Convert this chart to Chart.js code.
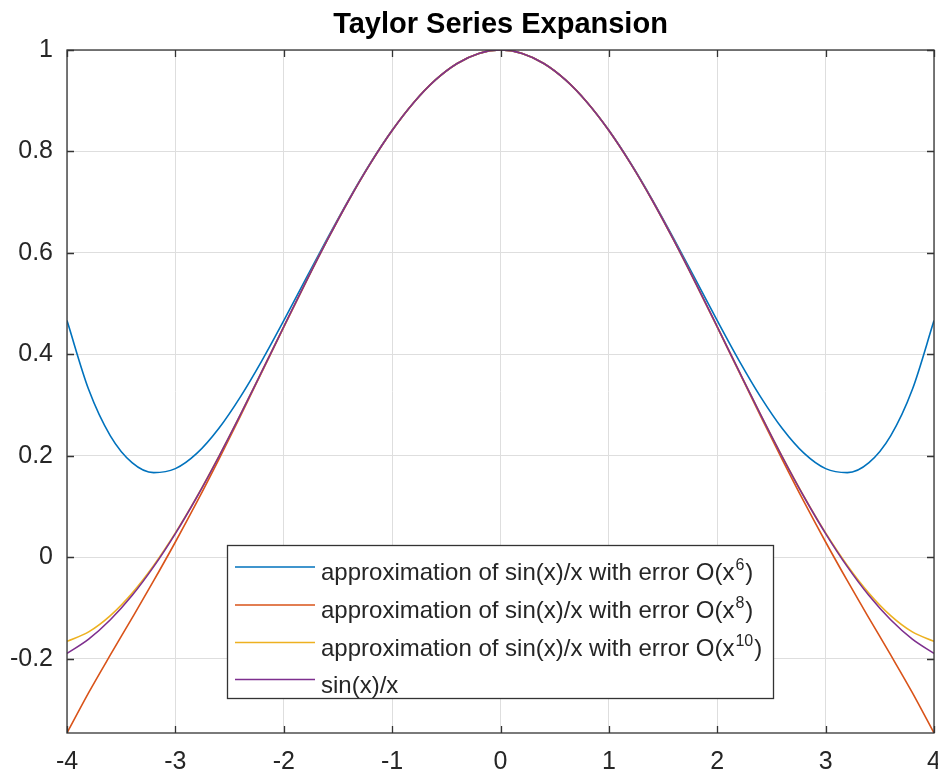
<!DOCTYPE html>
<html>
<head>
<meta charset="utf-8">
<script src="https://cdn.jsdelivr.net/npm/chart.js@4"></script>
<style>
  html, body { margin: 0; padding: 0; background: #ffffff; }
  #wrap { width: 938px; height: 776px; position: relative; }
</style>
</head>
<body>
<div id="wrap"><canvas id="c"></canvas></div>
<script>
// ---- data ----
const xValues = [-4, -3.8, -3.6, -3.4, -3.2, -3, -2.8, -2.6, -2.4, -2.2, -2, -1.8, -1.6, -1.4, -1.2, -1, -0.8, -0.6, -0.4, -0.2, 0,
                 0.2, 0.4, 0.6, 0.8, 1, 1.2, 1.4, 1.6, 1.8, 2, 2.2, 2.4, 2.6, 2.8, 3, 3.2, 3.4, 3.6, 3.8, 4];

const approxO6 = [0.4667, 0.3309, 0.2397, 0.1869, 0.1671, 0.1750, 0.2055, 0.2541, 0.3165, 0.3885, 0.4667, 0.5475, 0.6279, 0.7053, 0.7773, 0.8417, 0.8967, 0.9411, 0.9735, 0.9933, 1,
                  0.9933, 0.9735, 0.9411, 0.8967, 0.8417, 0.7773, 0.7053, 0.6279, 0.5475, 0.4667, 0.3885, 0.3165, 0.2541, 0.2055, 0.1750, 0.1671, 0.1869, 0.2397, 0.3309, 0.4667];

const approxO8 = [-0.3460, -0.2665, -0.1922, -0.1196, -0.0459, 0.0304, 0.1099, 0.1929, 0.2786, 0.3661, 0.4540, 0.5407, 0.6246, 0.7039, 0.7767, 0.8415, 0.8967, 0.9411, 0.9735, 0.9933, 1,
                  0.9933, 0.9735, 0.9411, 0.8967, 0.8415, 0.7767, 0.7039, 0.6246, 0.5407, 0.4540, 0.3661, 0.2786, 0.1929, 0.1099, 0.0304, -0.0459, -0.1196, -0.1922, -0.2665, -0.3460];

const approxO10 = [-0.1654, -0.1466, -0.1145, -0.0704, -0.0156, 0.0484, 0.1203, 0.1986, 0.2816, 0.3676, 0.4547, 0.5410, 0.6247, 0.7039, 0.7767, 0.8415, 0.8967, 0.9411, 0.9735, 0.9933, 1,
                   0.9933, 0.9735, 0.9411, 0.8967, 0.8415, 0.7767, 0.7039, 0.6247, 0.5410, 0.4547, 0.3676, 0.2816, 0.1986, 0.1203, 0.0484, -0.0156, -0.0704, -0.1145, -0.1466, -0.1654];

const sincValues = [-0.1892, -0.1610, -0.1229, -0.0752, -0.0182, 0.0470, 0.1196, 0.1983, 0.2814, 0.3675, 0.4546, 0.5410, 0.6247, 0.7039, 0.7767, 0.8415, 0.8967, 0.9411, 0.9735, 0.9933, 1,
                    0.9933, 0.9735, 0.9411, 0.8967, 0.8415, 0.7767, 0.7039, 0.6247, 0.5410, 0.4546, 0.3675, 0.2814, 0.1983, 0.1196, 0.0470, -0.0182, -0.0752, -0.1229, -0.1610, -0.1892];

const xTicks = [-4, -3, -2, -1, 0, 1, 2, 3, 4];
const yTicks = [-0.2, 0, 0.2, 0.4, 0.6, 0.8, 1];

const legendBase = ['approximation of sin(x)/x with error O(x', 'approximation of sin(x)/x with error O(x', 'approximation of sin(x)/x with error O(x', 'sin(x)/x'];
const legendSup  = ['6', '8', '10', ''];
const legendTail = [')', ')', ')', ''];
const titleText = 'Taylor Series Expansion';

// ---- styling ----
const colors = ['#0072BD', '#D95319', '#EDB120', '#7E2F8E'];
const FONT = "'Liberation Sans', Arial, Helvetica, sans-serif";
const AXIS_COLOR = '#333333';
const TEXT_COLOR = '#262626';

function pts(ys) { return xValues.map((x, i) => ({ x: x, y: ys[i] })); }

const seriesList = [approxO6, approxO8, approxO10, sincValues];
const datasets = seriesList.map((ys, i) => ({
  label: legendBase[i] + legendSup[i] + legendTail[i],
  data: pts(ys),
  borderColor: colors[i],
  backgroundColor: colors[i],
  borderWidth: 1.6,
  pointRadius: 0,
  fill: false,
  cubicInterpolationMode: 'monotone',
  order: 4 - i
}));

const boxPlugin = {
  id: 'matlabBox',
  afterDatasetsDraw(chart) {
    const { ctx, chartArea: a, scales } = chart;
    ctx.save();
    ctx.strokeStyle = AXIS_COLOR;
    ctx.lineWidth = 1.3;
    ctx.strokeRect(a.left, a.top, a.right - a.left, a.bottom - a.top);
    const tl = 7;
    ctx.beginPath();
    xTicks.forEach(v => {
      const px = Math.round(scales.x.getPixelForValue(v)) + 0.5;
      ctx.moveTo(px, a.bottom); ctx.lineTo(px, a.bottom - tl);
      ctx.moveTo(px, a.top); ctx.lineTo(px, a.top + tl);
    });
    yTicks.forEach(v => {
      const py = Math.round(scales.y.getPixelForValue(v)) + 0.5;
      ctx.moveTo(a.left, py); ctx.lineTo(a.left + tl, py);
      ctx.moveTo(a.right, py); ctx.lineTo(a.right - tl, py);
    });
    ctx.stroke();
    ctx.restore();
  },
  afterDraw(chart) {
    const { ctx, chartArea: a } = chart;
    ctx.save();
    // title
    ctx.fillStyle = '#000000';
    ctx.font = 'bold 29px ' + FONT;
    ctx.textAlign = 'center';
    ctx.textBaseline = 'alphabetic';
    ctx.fillText(titleText, (a.left + a.right) / 2, 33);

    // legend
    const bx = 227.5, by = 545.5, bw = 546, bh = 153;
    ctx.fillStyle = '#ffffff';
    ctx.fillRect(bx, by, bw, bh);
    ctx.strokeStyle = AXIS_COLOR;
    ctx.lineWidth = 1.3;
    ctx.strokeRect(bx, by, bw, bh);
    const baselines = [580, 618, 655.5, 692.5];
    ctx.textAlign = 'left';
    for (let i = 0; i < legendBase.length; i++) {
      const yb = baselines[i];
      const yl = yb - 13;
      ctx.strokeStyle = colors[i];
      ctx.lineWidth = 1.6;
      ctx.beginPath();
      ctx.moveTo(235, yl); ctx.lineTo(315, yl);
      ctx.stroke();
      ctx.fillStyle = TEXT_COLOR;
      ctx.font = '24px ' + FONT;
      let x = 321;
      ctx.fillText(legendBase[i], x, yb);
      x += ctx.measureText(legendBase[i]).width;
      if (legendSup[i]) {
        ctx.font = '16px ' + FONT;
        ctx.fillText(legendSup[i], x + 1, yb - 10);
        x += ctx.measureText(legendSup[i]).width + 2;
        ctx.font = '24px ' + FONT;
        ctx.fillText(legendTail[i], x, yb);
      }
    }
    ctx.restore();
  }
};

new Chart(document.getElementById('c'), {
  type: 'line',
  data: { datasets: datasets },
  options: {
    responsive: true,
    maintainAspectRatio: false,
    animation: false,
    devicePixelRatio: 1,
    layout: { padding: { top: 50, left: 0, right: 4, bottom: 0 } },
    plugins: {
      legend: { display: false },
      title: { display: false },
      tooltip: { enabled: false }
    },
    scales: {
      x: {
        type: 'linear',
        min: -4,
        max: 4,
        afterBuildTicks: s => { s.ticks = xTicks.map(v => ({ value: v })); },
        afterFit: s => { s.height = 43; s.paddingLeft = 0; s.paddingRight = 0; },
        grid: { color: '#dedede', lineWidth: 1, drawTicks: false },
        border: { display: false },
        ticks: {
          autoSkip: false, maxRotation: 0, padding: 14,
          color: TEXT_COLOR,
          font: { family: FONT, size: 25 },
          callback: v => String(v)
        }
      },
      y: {
        type: 'linear',
        min: -0.3460,
        max: 1,
        afterBuildTicks: s => { s.ticks = yTicks.map(v => ({ value: v })); },
        afterFit: s => { s.width = 67; s.paddingTop = 0; s.paddingBottom = 0; },
        grid: { color: '#dedede', lineWidth: 1, drawTicks: false },
        border: { display: false },
        ticks: {
          autoSkip: false, padding: 14,
          color: TEXT_COLOR,
          font: { family: FONT, size: 25 },
          callback: v => String(v)
        }
      }
    }
  },
  plugins: [boxPlugin]
});
</script>
</body>
</html>
